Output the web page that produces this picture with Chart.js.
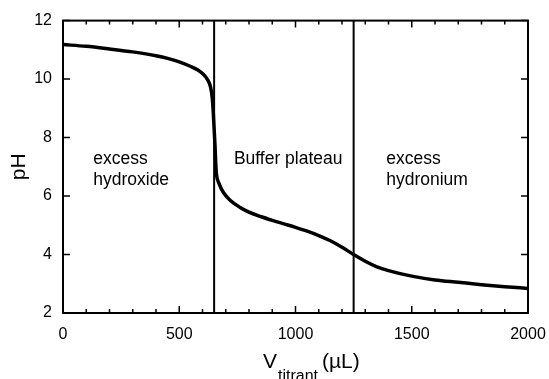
<!DOCTYPE html>
<html>
<head>
<meta charset="utf-8">
<script src="https://cdn.jsdelivr.net/npm/chart.js@4/dist/chart.umd.min.js"></script>
<style>
  html, body { margin: 0; padding: 0; background: #fff; }
  #wrap { width: 549px; height: 379px; }
</style>
</head>
<body>
<div id="wrap"><canvas id="grafica" width="549" height="379"></canvas></div>
<script>
// Volumen de titulante (uL) y pH
const volumen = [0, 100, 200, 300, 400, 450, 500, 550, 580, 600, 620, 635, 642, 646, 650, 654, 657, 660,
  670, 690, 720, 760, 800, 850, 900, 950, 1000, 1050, 1100, 1150, 1200, 1250, 1300, 1350, 1400,
  1500, 1600, 1700, 1800, 1900, 2000];
const ph = [11.18, 11.12, 11.03, 10.93, 10.8, 10.71, 10.59, 10.43, 10.31, 10.19, 10.0, 9.72, 9.35, 8.9, 8.3, 7.7, 7.1, 6.75,
  6.45, 6.12, 5.85, 5.62, 5.45, 5.3, 5.17, 5.05, 4.93, 4.8, 4.65, 4.47, 4.25, 4.0, 3.77, 3.58, 3.45,
  3.26, 3.13, 3.05, 2.97, 2.9, 2.84];

// Lineas verticales que separan las regiones
const limites = [650, 1250];
const rangoPh = [2, 12];

// Textos de las regiones: [x inicial, pH de la primera linea, lineas]
const regiones = [
  { x: 130, ph: 7.1, lineas: ['excess', 'hydroxide'] },
  { x: 735, ph: 7.1, lineas: ['Buffer plateau'] },
  { x: 1390, ph: 7.1, lineas: ['excess', 'hydronium'] }
];

const ticksX = [0, 500, 1000, 1500, 2000];
const ticksY = [2, 4, 6, 8, 10, 12];

const fuente = '"Liberation Sans", Arial, sans-serif';

const datasets = [{
  data: volumen.map((v, i) => ({ x: v, y: ph[i] })),
  borderColor: '#000',
  borderWidth: 3.5,
  pointRadius: 0,
  cubicInterpolationMode: 'monotone',
  fill: false
}];
limites.forEach(l => {
  datasets.push({
    data: rangoPh.map(p => ({ x: l, y: p })),
    borderColor: '#000',
    borderWidth: 2,
    pointRadius: 0,
    fill: false
  });
});

// Marco, marcas hacia dentro y textos
const marcoPlugin = {
  id: 'marco',
  afterDraw(chart) {
    const ctx = chart.ctx;
    const a = chart.chartArea;
    const sx = chart.scales.x;
    const sy = chart.scales.y;
    ctx.save();
    ctx.strokeStyle = '#000';
    ctx.lineWidth = 2;
    ctx.strokeRect(a.left, a.top, a.right - a.left, a.bottom - a.top);

    ctx.lineWidth = 1.5;
    ctx.beginPath();
    for (let v = 0; v <= 2000; v += 100) {
      const px = sx.getPixelForValue(v);
      const len = v % 500 === 0 ? 7 : 4;
      ctx.moveTo(px, a.bottom); ctx.lineTo(px, a.bottom - len);
      ctx.moveTo(px, a.top); ctx.lineTo(px, a.top + len);
    }
    ticksY.forEach(v => {
      const py = sy.getPixelForValue(v);
      ctx.moveTo(a.left, py); ctx.lineTo(a.left + 7, py);
      ctx.moveTo(a.right, py); ctx.lineTo(a.right - 7, py);
    });
    ctx.stroke();

    // textos de regiones
    ctx.fillStyle = '#000';
    ctx.font = '17.5px ' + fuente;
    ctx.textAlign = 'left';
    ctx.textBaseline = 'alphabetic';
    regiones.forEach(r => {
      const x = sx.getPixelForValue(r.x);
      const y = sy.getPixelForValue(r.ph);
      r.lineas.forEach((t, i) => ctx.fillText(t, x, y + i * 21));
    });

    // titulo eje y
    ctx.save();
    ctx.translate(19, (a.top + a.bottom) / 2);
    ctx.rotate(-Math.PI / 2);
    ctx.textAlign = 'center';
    ctx.textBaseline = 'middle';
    ctx.font = '21px ' + fuente;
    ctx.fillText('pH', 0, 0);
    ctx.restore();

    // titulo eje x con subindice
    let x0 = a.left + 200;
    const base = 368;
    ctx.font = '21px ' + fuente;
    ctx.fillText('V', x0, base);
    x0 += ctx.measureText('V').width + 1;
    ctx.font = '16px ' + fuente;
    ctx.fillText('titrant', x0, base + 13);
    x0 += ctx.measureText('titrant').width + 4;
    ctx.font = '21px ' + fuente;
    ctx.fillText('(\u00b5L)', x0, base);
    ctx.restore();
  }
};

new Chart(document.getElementById('grafica').getContext('2d'), {
  type: 'line',
  data: { datasets: datasets },
  options: {
    responsive: false,
    animation: false,
    events: [],
    layout: { padding: { left: 0, top: 20, right: 21, bottom: 0 } },
    plugins: { legend: { display: false }, tooltip: { enabled: false } },
    scales: {
      x: {
        type: 'linear',
        min: 0,
        max: 2000,
        afterFit: s => { s.height = 66; s.paddingRight = 0; s.paddingLeft = 0; },
        afterBuildTicks: s => { s.ticks = ticksX.map(v => ({ value: v })); },
        grid: { display: false, drawTicks: false },
        border: { display: false },
        ticks: { color: '#000', padding: 12, font: { family: fuente, size: 16 }, maxRotation: 0,
          callback: v => String(v) }
      },
      y: {
        type: 'linear',
        min: 2,
        max: 12,
        afterFit: s => { s.width = 63; },
        afterBuildTicks: s => { s.ticks = ticksY.map(v => ({ value: v })); },
        grid: { display: false, drawTicks: false },
        border: { display: false },
        ticks: { color: '#000', padding: 11, font: { family: fuente, size: 16 } }
      }
    }
  },
  plugins: [marcoPlugin]
});
</script>
</body>
</html>
